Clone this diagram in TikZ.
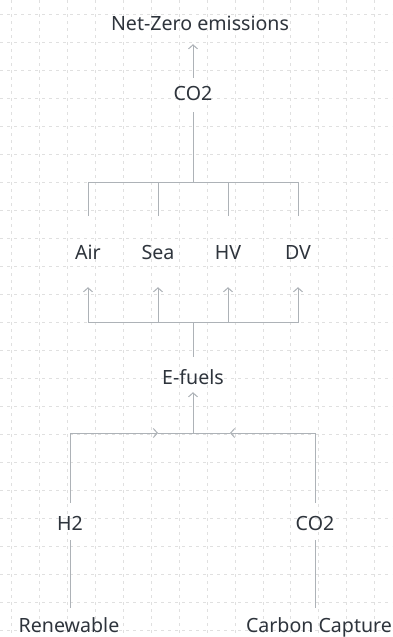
\documentclass[tikz,border=0pt]{standalone}
\usepackage{fontspec}
\setmainfont{Noto Sans}
\usetikzlibrary{arrows.meta, positioning}
\definecolor{ink}{HTML}{2E343C}
\definecolor{wire}{HTML}{ADB2B7}
\definecolor{grid}{HTML}{E0E0E0}
\tikzset{
  every picture/.style={x=1pt, y=-1pt},
  lbl/.style={text=ink, font=\fontsize{19.6}{22}\selectfont, inner sep=0pt, text height=14pt, text depth=4pt},
  link/.style={draw=wire, line width=1pt},
  arrow/.style={link, -{Straight Barb[length=4pt, width=9pt]}},
  gridline/.style={draw=grid, line width=0.6pt, dash pattern=on 3pt off 4pt},
}
\begin{document}
\begin{tikzpicture}
  \fill[white] (0,0) rectangle (392,637);
  \useasboundingbox (0,0) rectangle (392,637);
  % dotted paper
  \foreach \i in {0,...,13} {\draw[gridline] (11.7+27.9*\i,0) -- (11.7+27.9*\i,637);}
  \foreach \j in {0,...,22} {\draw[gridline] (0,14+28*\j) -- (392,14+28*\j);}

  \node[lbl] (nz) at (200,25) {Net-Zero emissions};
  \node[lbl] (co2t) at (193,95) {CO2};
  \node[lbl] (air) at (88,254) {Air};
  \node[lbl] (sea) at (158,254) {Sea};
  \node[lbl] (hv) at (228,254) {HV};
  \node[lbl] (dv) at (298,254) {DV};
  \node[lbl] (ef) at (193,379) {E-fuels};
  \node[lbl] (h2) at (70,525) {H2};
  \node[lbl] (co2b) at (315,525) {CO2};
  \node[lbl] (ren) at (69,627) {Renewable};
  \node[lbl] (cc) at (319,627) {Carbon Capture};

  \coordinate (tj) at (193,182);
  \coordinate (bj) at (193,322);
  \coordinate (fj) at (193,433);
  \coordinate (fl) at (158,433);
  \coordinate (fr) at (230,433);

  % up to net zero
  \draw[arrow, shorten <=8pt, shorten >=10pt] (co2t.north) -- (co2t |- nz.south);
  \draw[link, shorten <=8pt] (co2t.south) -- (tj);
  \foreach \n in {air, sea, hv, dv} {
    \draw[link, shorten <=29pt] (\n.north) |- (tj);
    \draw[arrow, shorten >=24pt] (bj) -| (\n.south);
  }
  \draw[link, shorten >=13pt] (bj) -- (ef.north);
  \draw[arrow, shorten >=4pt] (fj) -- (ef.south);

  % inputs
  \draw[arrow, shorten <=13pt] (h2.north) |- (fl);
  \draw[link] (fl) -- (fj);
  \draw[arrow, shorten <=13pt] (co2b.north) |- (fr);
  \draw[link] (fr) -- (fj);
  \draw[link, shorten <=6pt, shorten >=10pt] (h2.south) -- (h2 |- ren.north);
  \draw[link, shorten <=6pt, shorten >=10pt] (co2b.south) -- (co2b |- cc.north);
\end{tikzpicture}
\end{document}
